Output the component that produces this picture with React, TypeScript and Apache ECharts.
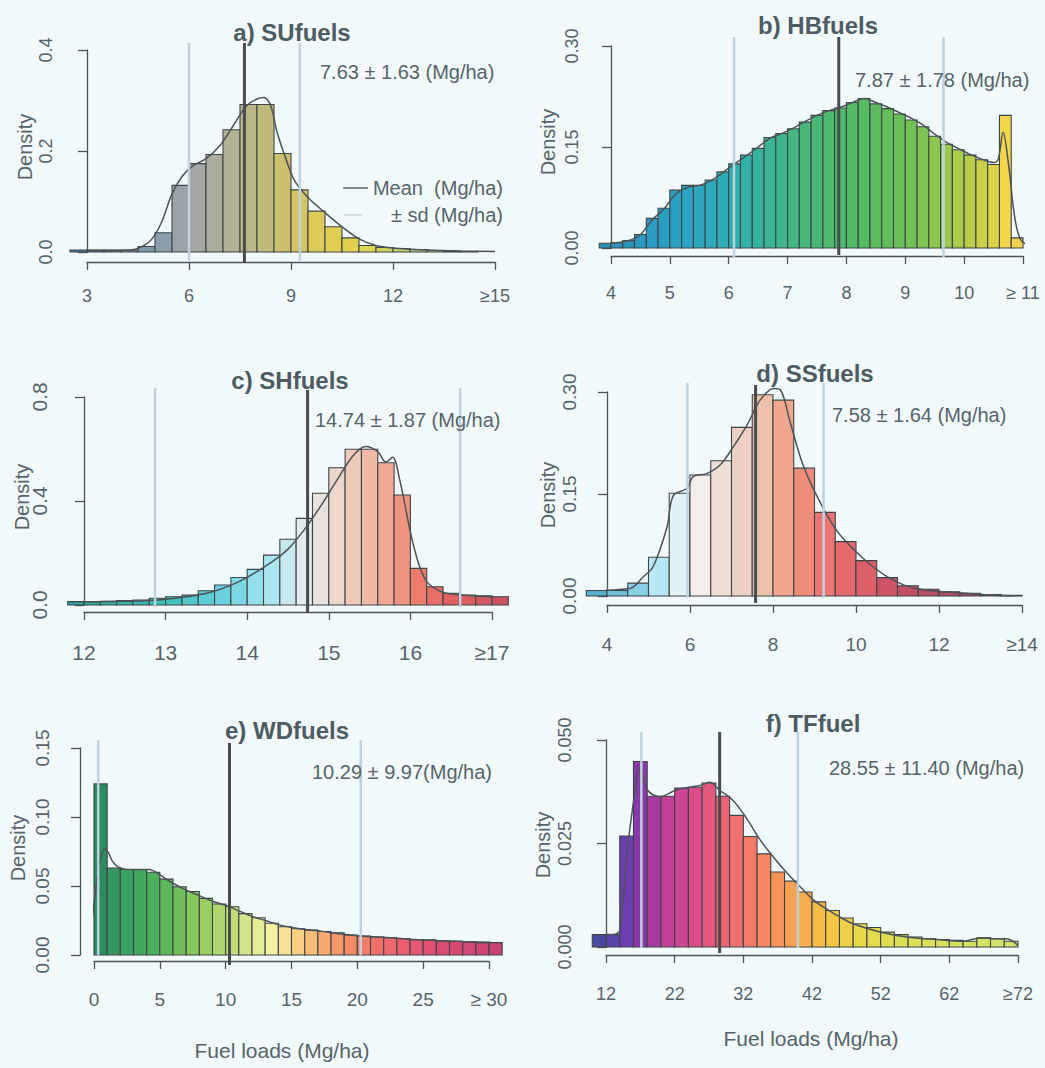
import React, { useEffect, useRef } from "react";
import * as echarts from "echarts";

// ---------- a) SUfuels ----------
const aTitle = "a) SUfuels";
const aNote = "7.63 ± 1.63 (Mg/ha)";
const aBins = [2.5, 3.0, 3.5, 4.0, 4.5, 5.0, 5.5, 6.0, 6.5, 7.0, 7.5, 8.0, 8.5, 9.0, 9.5, 10.0, 10.5, 11.0, 11.5, 12.0, 12.5, 13.0, 13.5, 14.0];
const aBinWidth = 0.5;
const aDensity = [0.004, 0.004, 0.004, 0.004, 0.011, 0.038, 0.132, 0.175, 0.193, 0.242, 0.292, 0.292, 0.195, 0.123, 0.081, 0.05, 0.028, 0.013, 0.009, 0.007, 0.005, 0.003, 0.002, 0.001];
const aCurveX = [2.5, 3.5, 4.3, 4.6, 4.9, 5.2, 5.5, 5.8, 6.1, 6.5, 6.9, 7.3, 7.7, 8.0, 8.2, 8.4, 8.6, 8.9, 9.1, 9.5, 10.0, 10.5, 11.0, 11.5, 12.0, 13.0, 14.0, 15.0];
const aCurveY = [0.003, 0.003, 0.004, 0.01, 0.025, 0.06, 0.115, 0.15, 0.17, 0.185, 0.21, 0.25, 0.29, 0.303, 0.306, 0.29, 0.235, 0.175, 0.142, 0.108, 0.078, 0.05, 0.026, 0.013, 0.008, 0.004, 0.002, 0.001];
const aMean = 7.63;
const aSd = 1.63;
const aXTicks = [3, 6, 9, 12, 15];
const aXLabels = ["3", "6", "9", "12", "≥15"];
const aYMax = 0.4;
const aYStep = 0.2;
const aYDecimals = 1;

// ---------- b) HBfuels ----------
const bTitle = "b) HBfuels";
const bNote = "7.87 ± 1.78 (Mg/ha)";
const bBins = [3.8, 4.0, 4.2, 4.4, 4.6, 4.8, 5.0, 5.2, 5.4, 5.6, 5.8, 6.0, 6.2, 6.4, 6.6, 6.8, 7.0, 7.2, 7.4, 7.6, 7.8, 8.0, 8.2, 8.4, 8.6, 8.8, 9.0, 9.2, 9.4, 9.6, 9.8, 10.0, 10.2, 10.4, 10.6, 10.8];
const bBinWidth = 0.2;
const bDensity = [0.007, 0.008, 0.011, 0.02, 0.044, 0.059, 0.086, 0.093, 0.093, 0.101, 0.113, 0.125, 0.138, 0.148, 0.164, 0.17, 0.177, 0.187, 0.197, 0.204, 0.208, 0.216, 0.222, 0.214, 0.207, 0.199, 0.19, 0.18, 0.166, 0.154, 0.146, 0.138, 0.131, 0.124, 0.197, 0.015];
const bCurveX = [3.7, 4.0, 4.3, 4.5, 4.7, 4.9, 5.1, 5.3, 5.5, 5.7, 5.9, 6.1, 6.3, 6.5, 6.7, 6.9, 7.1, 7.3, 7.5, 7.7, 7.9, 8.1, 8.3, 8.5, 8.7, 8.9, 9.1, 9.3, 9.5, 9.7, 9.9, 10.1, 10.3, 10.5, 10.58, 10.66, 10.76, 10.86, 10.96, 11.1, 11.3];
const bCurveY = [0.006, 0.007, 0.011, 0.02, 0.042, 0.058, 0.08, 0.09, 0.093, 0.1, 0.112, 0.125, 0.137, 0.15, 0.163, 0.17, 0.178, 0.188, 0.197, 0.204, 0.209, 0.216, 0.222, 0.216, 0.209, 0.201, 0.193, 0.183, 0.169, 0.157, 0.148, 0.139, 0.132, 0.127, 0.132, 0.172, 0.12, 0.045, 0.012, 0.004, 0.001];
const bMean = 7.87;
const bSd = 1.78;
const bXTicks = [4, 5, 6, 7, 8, 9, 10, 11];
const bXLabels = ["4", "5", "6", "7", "8", "9", "10", "≥ 11"];
const bYMax = 0.3;
const bYStep = 0.15;
const bYDecimals = 2;

// ---------- c) SHfuels ----------
const cTitle = "c) SHfuels";
const cNote = "14.74 ± 1.87 (Mg/ha)";
const cBins = [11.8, 12.0, 12.2, 12.4, 12.6, 12.8, 13.0, 13.2, 13.4, 13.6, 13.8, 14.0, 14.2, 14.4, 14.6, 14.8, 15.0, 15.2, 15.4, 15.6, 15.8, 16.0, 16.2, 16.4, 16.6, 16.8, 17.0];
const cBinWidth = 0.2;
const cDensity = [0.013, 0.013, 0.014, 0.017, 0.019, 0.026, 0.032, 0.038, 0.055, 0.077, 0.106, 0.137, 0.192, 0.253, 0.333, 0.43, 0.528, 0.599, 0.599, 0.547, 0.423, 0.141, 0.07, 0.045, 0.038, 0.035, 0.032];
const cCurveX = [11.8, 12.5, 13.0, 13.5, 13.9, 14.3, 14.5, 14.7, 14.9, 15.1, 15.3, 15.45, 15.6, 15.7, 15.78, 15.87, 16.0, 16.1, 16.2, 16.35, 16.5, 16.8, 17.2];
const cCurveY = [0.012, 0.014, 0.022, 0.045, 0.09, 0.165, 0.215, 0.29, 0.38, 0.48, 0.575, 0.61, 0.59, 0.55, 0.568, 0.48, 0.28, 0.16, 0.09, 0.055, 0.042, 0.035, 0.03];
const cMean = 14.74;
const cSd = 1.87;
const cXTicks = [12, 13, 14, 15, 16, 17];
const cXLabels = ["12", "13", "14", "15", "16", "≥17"];
const cYMax = 0.8;
const cYStep = 0.4;
const cYDecimals = 1;

// ---------- d) SSfuels ----------
const dTitle = "d) SSfuels";
const dNote = "7.58 ± 1.64 (Mg/ha)";
const dBins = [3.5, 4.0, 4.5, 5.0, 5.5, 6.0, 6.5, 7.0, 7.5, 8.0, 8.5, 9.0, 9.5, 10.0, 10.5, 11.0, 11.5, 12.0, 12.5, 13.0, 13.5];
const dBinWidth = 0.5;
const dDensity = [0.008, 0.008, 0.019, 0.057, 0.151, 0.178, 0.199, 0.248, 0.296, 0.288, 0.188, 0.123, 0.08, 0.052, 0.027, 0.015, 0.01, 0.006, 0.004, 0.002, 0.001];
const dCurveX = [3.5, 4.55, 4.87, 5.11, 5.44, 5.6, 5.92, 6.08, 6.4, 6.73, 7.05, 7.37, 7.69, 8.02, 8.18, 8.42, 8.74, 9.15, 9.55, 9.95, 10.35, 10.76, 11.16, 11.56, 12.37, 13.2, 13.8];
const dCurveY = [0.008, 0.011, 0.028, 0.043, 0.1, 0.148, 0.158, 0.176, 0.18, 0.193, 0.22, 0.251, 0.288, 0.305, 0.303, 0.254, 0.19, 0.136, 0.095, 0.068, 0.046, 0.028, 0.016, 0.01, 0.005, 0.0015, 0.0005];
const dMean = 7.58;
const dSd = 1.64;
const dXTicks = [4, 6, 8, 10, 12, 14];
const dXLabels = ["4", "6", "8", "10", "12", "≥14"];
const dYMax = 0.3;
const dYStep = 0.15;
const dYDecimals = 2;

// ---------- e) WDfuels ----------
const eTitle = "e) WDfuels";
const eNote = "10.29 ± 9.97(Mg/ha)";
const eBins = [0, 1, 2, 3, 4, 5, 6, 7, 8, 9, 10, 11, 12, 13, 14, 15, 16, 17, 18, 19, 20, 21, 22, 23, 24, 25, 26, 27, 28, 29, 30];
const eBinWidth = 1;
const eDensity = [0.124, 0.063, 0.062, 0.062, 0.06, 0.055, 0.0495, 0.046, 0.041, 0.037, 0.035, 0.03, 0.027, 0.023, 0.0205, 0.019, 0.018, 0.017, 0.016, 0.0145, 0.0138, 0.013, 0.0125, 0.012, 0.011, 0.011, 0.0102, 0.01, 0.0095, 0.009, 0.009];
const eCurveX = [-2.0, -1.0, -0.5, -0.2, 0.1, 0.4, 0.8, 1.1, 1.4, 1.8, 2.5, 3.5, 4.2, 5.0, 6.0, 7.0, 8.0, 9.0, 10.0, 11.0, 12.0, 13.0, 14.0, 15.0, 16.0, 17.0, 18.0, 19.0, 20.0, 22.0, 24.0, 26.0, 28.0, 31.0];
const eCurveY = [0.0, 0.001, 0.004, 0.02, 0.045, 0.065, 0.077, 0.074, 0.068, 0.064, 0.062, 0.062, 0.062, 0.058, 0.052, 0.047, 0.043, 0.039, 0.036, 0.032, 0.028, 0.025, 0.022, 0.02, 0.0185, 0.0175, 0.0162, 0.015, 0.014, 0.0128, 0.0115, 0.0105, 0.0098, 0.009];
const eMean = 10.29;
const eSd = 9.97;
const eXTicks = [0, 5, 10, 15, 20, 25, 30];
const eXLabels = ["0", "5", "10", "15", "20", "25", "≥ 30"];
const eYMax = 0.15;
const eYStep = 0.05;
const eYDecimals = 2;

// ---------- f) TFfuel ----------
const fTitle = "f) TFfuel";
const fNote = "28.55 ± 11.40 (Mg/ha)";
const fBins = [10, 12, 14, 16, 18, 20, 22, 24, 26, 28, 30, 32, 34, 36, 38, 40, 42, 44, 46, 48, 50, 52, 54, 56, 58, 60, 62, 64, 66, 68, 70];
const fBinWidth = 2;
const fDensity = [0.003, 0.003, 0.0268, 0.0448, 0.0364, 0.0364, 0.0384, 0.0386, 0.0396, 0.0364, 0.0318, 0.0267, 0.0225, 0.0181, 0.0159, 0.0133, 0.0109, 0.0088, 0.007, 0.0056, 0.0047, 0.0036, 0.003, 0.0024, 0.002, 0.0018, 0.0016, 0.0014, 0.0022, 0.002, 0.0014];
const fCurveX = [10, 13, 14, 15, 16, 16.95, 18.1, 19.9, 22.3, 25.7, 27.1, 28.6, 30.5, 32.5, 34.4, 36.4, 38.3, 40.3, 42.2, 44.1, 46.1, 48, 51.9, 55.8, 60.2, 64, 66.5, 68.4, 70.3, 72];
const fCurveY = [0.003, 0.003, 0.004, 0.0217, 0.035, 0.0434, 0.0378, 0.0363, 0.038, 0.039, 0.0398, 0.0378, 0.0354, 0.031, 0.026, 0.0217, 0.018, 0.0145, 0.0114, 0.0092, 0.0072, 0.0056, 0.0036, 0.0024, 0.0018, 0.0014, 0.0022, 0.002, 0.002, 0.0004];
const fMean = 28.55;
const fSd = 11.4;
const fXTicks = [12, 22, 32, 42, 52, 62, 72];
const fXLabels = ["12", "22", "32", "42", "52", "62", "≥72"];
const fYMax = 0.05;
const fYStep = 0.025;
const fYDecimals = 3;

// ---------- colour ramps (style) ----------
const aRamp: [number, string][] = [[2.5, "#3b7fae"], [4.5, "#7694ad"], [5.5, "#93a0aa"], [6.5, "#a9a9a2"], [7.5, "#b6b38e"], [8.5, "#c4bd74"], [9.5, "#dac85c"], [10.5, "#e6cf4e"], [11.5, "#dcd65a"], [12.5, "#b4d274"], [14.5, "#8cc48e"]];
const bRamp: [number, string][] = [[3.8, "#2b8cb6"], [5.0, "#2aa0c6"], [6.0, "#2eaeb6"], [6.6, "#38b49a"], [7.2, "#45b77c"], [8.2, "#52ba62"], [9.0, "#6cc056"], [9.8, "#a0ca4a"], [10.4, "#d0d046"], [10.7, "#f2d64c"], [11.0, "#f2d250"]];
const cRamp: [number, string][] = [[11.8, "#2ea39c"], [13.0, "#3ebfbf"], [13.8, "#72d4e2"], [14.3, "#a9e6f2"], [14.7, "#e2ecec"], [15.0, "#ecdcd4"], [15.4, "#f0c4b0"], [15.8, "#f0a088"], [16.1, "#ee7c6c"], [16.5, "#e26262"], [17.2, "#c85262"]];
const dRamp: [number, string][] = [[3.5, "#4aa6c8"], [4.7, "#82cce2"], [5.2, "#b2e6f2"], [5.7, "#e0f3f7"], [6.2, "#f4f0ec"], [6.8, "#eddcd3"], [7.7, "#ecc3ae"], [8.2, "#f0a890"], [8.8, "#f08a78"], [9.3, "#ec7270"], [10.2, "#e06068"], [10.8, "#cc5262"], [12, "#b24c64"], [14, "#9c4868"]];
const eRamp: [number, string][] = [[0.5, "#2d8b60"], [2.5, "#3aa262"], [4.5, "#4cae5c"], [6.5, "#70be58"], [8.5, "#9ace62"], [10.5, "#c2de7a"], [12.5, "#e4ec96"], [13.5, "#f4f0a2"], [15, "#f8d88a"], [17, "#f8b272"], [19, "#f49068"], [21.5, "#f07068"], [24, "#e85a72"], [27, "#da4a72"], [30.5, "#c84276"]];
const fRamp: [number, string][] = [[11, "#4b48a0"], [13, "#5844a8"], [15, "#6c3eb0"], [17, "#8a38a8"], [19, "#a638a0"], [21, "#c0409a"], [25, "#dc4c88"], [29, "#ee6474"], [33, "#f47a68"], [37, "#f89458"], [41, "#f8ae4c"], [45, "#f2c844"], [49, "#e8d84a"], [55, "#dce052"], [71, "#d4e26a"]];

const FONT = '"Liberation Sans", Arial, Helvetica, sans-serif';
const TEXT = "#56646a";
const AXIS = "#4c5457";
const BG = "#f2f9fb";
const BAR_EDGE = "#3e4548";
const MEAN_COLOR = "#474c4e";
const SD_COLOR = "#bdd2dc";

type Panel = {
  title: string; note: string; bins: number[]; binWidth: number; density: number[];
  curveX: number[]; curveY: number[]; mean: number; sd: number;
  xTicks: number[]; xLabels: string[]; yMax: number; yStep: number; yDec: number;
  ramp: [number, string][];
};

const panels: Panel[] = [
  { title: aTitle, note: aNote, bins: aBins, binWidth: aBinWidth, density: aDensity, curveX: aCurveX, curveY: aCurveY, mean: aMean, sd: aSd, xTicks: aXTicks, xLabels: aXLabels, yMax: aYMax, yStep: aYStep, yDec: aYDecimals, ramp: aRamp },
  { title: bTitle, note: bNote, bins: bBins, binWidth: bBinWidth, density: bDensity, curveX: bCurveX, curveY: bCurveY, mean: bMean, sd: bSd, xTicks: bXTicks, xLabels: bXLabels, yMax: bYMax, yStep: bYStep, yDec: bYDecimals, ramp: bRamp },
  { title: cTitle, note: cNote, bins: cBins, binWidth: cBinWidth, density: cDensity, curveX: cCurveX, curveY: cCurveY, mean: cMean, sd: cSd, xTicks: cXTicks, xLabels: cXLabels, yMax: cYMax, yStep: cYStep, yDec: cYDecimals, ramp: cRamp },
  { title: dTitle, note: dNote, bins: dBins, binWidth: dBinWidth, density: dDensity, curveX: dCurveX, curveY: dCurveY, mean: dMean, sd: dSd, xTicks: dXTicks, xLabels: dXLabels, yMax: dYMax, yStep: dYStep, yDec: dYDecimals, ramp: dRamp },
  { title: eTitle, note: eNote, bins: eBins, binWidth: eBinWidth, density: eDensity, curveX: eCurveX, curveY: eCurveY, mean: eMean, sd: eSd, xTicks: eXTicks, xLabels: eXLabels, yMax: eYMax, yStep: eYStep, yDec: eYDecimals, ramp: eRamp },
  { title: fTitle, note: fNote, bins: fBins, binWidth: fBinWidth, density: fDensity, curveX: fCurveX, curveY: fCurveY, mean: fMean, sd: fSd, xTicks: fXTicks, xLabels: fXLabels, yMax: fYMax, yStep: fYStep, yDec: fYDecimals, ramp: fRamp },
];

// layout (pixels)
const layouts = [
  { left: 87, top: 50, width: 408, height: 202, xOff: 10, yOff: 0, xMargin: 25, yMargin: 32, fs: 18, tX: 292, tY: 32, nX: 320, nY: 72, dX: 25, dY: 147, mTop: 7, mBot: 11, sTop: 7, sBot: 10 },
  { left: 611, top: 46, width: 412, height: 202, xOff: 8, yOff: 0, xMargin: 28, yMargin: 30, fs: 18, tX: 818, tY: 25, nX: 855, nY: 80, dX: 548, dY: 142, mTop: 9, mBot: 7, sTop: 9, sBot: 9 },
  { left: 84, top: 397, width: 408, height: 208, xOff: 7, yOff: 0, xMargin: 30, yMargin: 34, fs: 21, tX: 290, tY: 380, nX: 315, nY: 420, dX: 22, dY: 497, mTop: 7, mBot: 8, sTop: 9, sBot: 2 },
  { left: 607, top: 392, width: 415, height: 204, xOff: 9, yOff: 0, xMargin: 30, yMargin: 28, fs: 19, tX: 815, tY: 373, nX: 832, nY: 415, dX: 548, dY: 495, mTop: 7, mBot: 7, sTop: 9, sBot: 2 },
  { left: 94, top: 748, width: 395, height: 207, xOff: 6, yOff: 14, xMargin: 29, yMargin: 28, fs: 19, tX: 287, tY: 730, nX: 312, nY: 772, dX: 18, dY: 848, mTop: 5, mBot: 10, sTop: 8, sBot: 0 },
  { left: 606, top: 740, width: 412, height: 207, xOff: 8, yOff: 0, xMargin: 30, yMargin: 32, fs: 18, tX: 813, tY: 723, nX: 829, nY: 768, dX: 543, dY: 845, mTop: 8, mBot: 6, sTop: 8, sBot: 1 },
];

function hexToRgb(h: string) {
  const n = parseInt(h.slice(1), 16);
  return [(n >> 16) & 255, (n >> 8) & 255, n & 255];
}
function rampColor(ramp: [number, string][], v: number) {
  if (v <= ramp[0][0]) return ramp[0][1];
  for (let i = 1; i < ramp.length; i++) {
    if (v <= ramp[i][0]) {
      const t = (v - ramp[i - 1][0]) / (ramp[i][0] - ramp[i - 1][0]);
      const c0 = hexToRgb(ramp[i - 1][1]);
      const c1 = hexToRgb(ramp[i][1]);
      const c = c0.map((x, k) => Math.round(x + (c1[k] - x) * t));
      return `rgb(${c[0]},${c[1]},${c[2]})`;
    }
  }
  return ramp[ramp.length - 1][1];
}

function buildOption() {
  const grid: any[] = [];
  const xAxis: any[] = [];
  const yAxis: any[] = [];
  const series: any[] = [];
  const graphic: any[] = [];

  panels.forEach((p, i) => {
    const L = layouts[i];
    grid.push({ left: L.left, top: L.top, width: L.width, height: L.height, containLabel: false });
    xAxis.push({
      gridIndex: i, type: "value",
      min: p.xTicks[0], max: p.xTicks[p.xTicks.length - 1],
      offset: L.xOff,
      axisLine: { show: true, onZero: false, lineStyle: { color: AXIS, width: 1.3 } },
      axisTick: { show: true, length: 8, customValues: p.xTicks, lineStyle: { color: AXIS, width: 1.3 } },
      axisLabel: {
        show: true, customValues: p.xTicks, margin: L.xMargin, fontSize: L.fs, color: TEXT, fontFamily: FONT,
        hideOverlap: false,
        formatter: (v: number) => {
          const k = p.xTicks.findIndex((t) => Math.abs(t - v) < 1e-6);
          return k >= 0 ? p.xLabels[k] : "";
        },
      },
      splitLine: { show: false },
    });
    yAxis.push({
      gridIndex: i, type: "value", min: 0, max: p.yMax, interval: p.yStep,
      offset: L.yOff,
      axisLine: { show: true, onZero: false, lineStyle: { color: AXIS, width: 1.3 } },
      axisTick: { show: true, length: 9, lineStyle: { color: AXIS, width: 1.3 } },
      axisLabel: {
        show: true, rotate: 90, margin: L.yMargin, fontSize: L.fs, color: TEXT, fontFamily: FONT,
        formatter: (v: number) => v.toFixed(p.yDec),
      },
      splitLine: { show: false },
    });

    // histogram bars
    series.push({
      type: "custom", xAxisIndex: i, yAxisIndex: i, clip: false, z: 2,
      data: p.bins.map((b, k) => [b, b + p.binWidth, p.density[k]]),
      encode: { x: [0, 1], y: 2 },
      renderItem: (params: any, api: any) => {
        const x0 = api.value(0), x1 = api.value(1), y = api.value(2);
        const pTop = api.coord([x0, y]);
        const pBot = api.coord([x1, 0]);
        return {
          type: "rect",
          shape: { x: pTop[0], y: pTop[1], width: pBot[0] - pTop[0], height: pBot[1] - pTop[1] },
          style: { fill: rampColor(p.ramp, (x0 + x1) / 2), stroke: BAR_EDGE, lineWidth: 1.1 },
        };
      },
    });

    // density curve
    series.push({
      type: "line", xAxisIndex: i, yAxisIndex: i, clip: false, z: 3,
      data: p.curveX.map((x, k) => [x, p.curveY[k]]),
      smooth: 0.35, showSymbol: false, symbol: "none",
      lineStyle: { color: "#4b5356", width: 1.5 },
      silent: true,
    });

    // sd and mean lines
    series.push({
      type: "custom", xAxisIndex: i, yAxisIndex: i, clip: false, z: 4,
      data: [[p.mean - p.sd, 0], [p.mean + p.sd, 0], [p.mean, 1]],
      renderItem: (params: any, api: any) => {
        const x = api.value(0);
        const isMean = api.value(1) === 1;
        const top = api.coord([x, p.yMax]);
        const bot = api.coord([x, 0]);
        return {
          type: "line",
          shape: {
            x1: top[0], y1: top[1] - (isMean ? L.mTop : L.sTop),
            x2: bot[0], y2: bot[1] + (isMean ? L.mBot : L.sBot),
          },
          style: { stroke: isMean ? MEAN_COLOR : SD_COLOR, lineWidth: isMean ? 3 : 2.5 },
        };
      },
    });

    graphic.push({
      type: "text", x: L.tX, y: L.tY, z: 10,
      style: { text: p.title, fontSize: 24, fontWeight: "bold", fill: "#4d5c63", fontFamily: FONT, textAlign: "center", textVerticalAlign: "middle", align: "center", verticalAlign: "middle" },
    });
    graphic.push({
      type: "text", x: L.nX, y: L.nY, z: 10,
      style: { text: p.note, fontSize: 20, fill: TEXT, fontFamily: FONT, textAlign: "left", textVerticalAlign: "middle", align: "left", verticalAlign: "middle" },
    });
    graphic.push({
      type: "text", x: L.dX, y: L.dY, rotation: Math.PI / 2, z: 10,
      style: { text: "Density", fontSize: 20, fill: TEXT, fontFamily: FONT, textAlign: "center", textVerticalAlign: "middle", align: "center", verticalAlign: "middle" },
    });
  });

  // legend in panel a
  graphic.push({ type: "line", shape: { x1: 343, y1: 188, x2: 368, y2: 188 }, style: { stroke: "#59666b", lineWidth: 1.5 }, z: 10 });
  graphic.push({ type: "text", x: 503, y: 188, z: 10, style: { text: "Mean  (Mg/ha)", fontSize: 20, fill: TEXT, fontFamily: FONT, textAlign: "right", textVerticalAlign: "middle", align: "right", verticalAlign: "middle" } });
  graphic.push({ type: "line", shape: { x1: 344, y1: 215, x2: 362, y2: 215 }, style: { stroke: "#c6d6de", lineWidth: 1.5 }, z: 10 });
  graphic.push({ type: "text", x: 503, y: 215, z: 10, style: { text: "± sd (Mg/ha)", fontSize: 20, fill: TEXT, fontFamily: FONT, textAlign: "right", textVerticalAlign: "middle", align: "right", verticalAlign: "middle" } });

  // x-axis names
  graphic.push({ type: "text", x: 282, y: 1050, z: 10, style: { text: "Fuel loads (Mg/ha)", fontSize: 21, fill: TEXT, fontFamily: FONT, textAlign: "center", textVerticalAlign: "middle", align: "center", verticalAlign: "middle" } });
  graphic.push({ type: "text", x: 811, y: 1038, z: 10, style: { text: "Fuel loads (Mg/ha)", fontSize: 21, fill: TEXT, fontFamily: FONT, textAlign: "center", textVerticalAlign: "middle", align: "center", verticalAlign: "middle" } });

  return {
    animation: false,
    backgroundColor: BG,
    textStyle: { fontFamily: FONT },
    grid, xAxis, yAxis, series, graphic,
  };
}

export default function App() {
  const ref = useRef<HTMLDivElement>(null);
  useEffect(() => {
    if (!ref.current) return;
    const chart = echarts.init(ref.current, undefined, { renderer: "svg" });
    chart.setOption(buildOption() as any);
    return () => chart.dispose();
  }, []);
  return (
    <div
      ref={ref}
      style={{ position: "fixed", left: 0, top: 0, width: 1045, height: 1068, background: BG }}
    />
  );
}
